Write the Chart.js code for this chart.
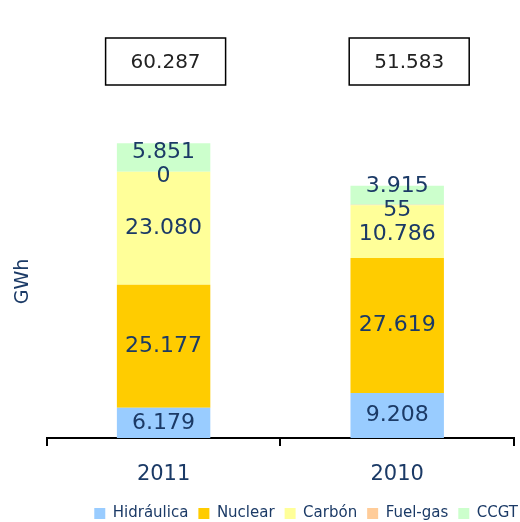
<!DOCTYPE html>
<html>
<head>
<meta charset="utf-8">
<script src="https://cdn.jsdelivr.net/npm/chart.js@4.4.1/dist/chart.umd.min.js"></script>
<style>
    html, body { margin: 0; padding: 0; background: #fff; }
    #wrap { width: 520px; height: 522px; }
</style>
</head>
<body>
<div id="wrap"><canvas id="barChart"></canvas></div>
<script>
// values (GWh)
const years = ["2011", "2010"];
const hidraulica = [6179, 9208];
const nuclear = [25177, 27619];
const carbon = [23080, 10786];
const fuelGas = [0, 55];
const ccgt = [5851, 3915];

const seriesNames = ["Hidráulica", "Nuclear", "Carbón", "Fuel-gas", "CCGT"];
const seriesColors = ["#99ccff", "#ffcc00", "#ffff99", "#ffcc99", "#ccffcc"];
const seriesValues = [hidraulica, nuclear, carbon, fuelGas, ccgt];

const textBlue = "#1b3a66";
const fontFamily = "'DejaVu Sans', Verdana, sans-serif";

function fmt(v) {
    return String(v).replace(/\B(?=(\d{3})+(?!\d))/g, ".");
}

// labels in the middle of each segment, pushed apart a bit when they collide
const segmentLabels = {
    id: "segmentLabels",
    afterDatasetsDraw(chart) {
        const ctx = chart.ctx;
        const minGap = 24;
        ctx.save();
        ctx.font = "22px " + fontFamily;
        ctx.fillStyle = textBlue;
        ctx.textAlign = "center";
        ctx.textBaseline = "middle";
        years.forEach((yr, i) => {
            let items = [];
            chart.data.datasets.forEach((ds, d) => {
                const el = chart.getDatasetMeta(d).data[i];
                items.push({ x: el.x, y: (el.y + el.base) / 2, text: fmt(ds.data[i]) });
            });
            // bottom to top
            items.sort((a, b) => b.y - a.y);
            let groups = items.map(it => ({ members: [it], center: it.y }));
            let changed = true;
            while (changed) {
                changed = false;
                for (let g = 0; g < groups.length - 1; g++) {
                    const lo = groups[g], hi = groups[g + 1];
                    const loTop = lo.center - (lo.members.length - 1) * minGap / 2;
                    const hiBottom = hi.center + (hi.members.length - 1) * minGap / 2;
                    if (loTop - hiBottom < minGap) {
                        const n = lo.members.length + hi.members.length;
                        const c = (lo.center * lo.members.length + hi.center * hi.members.length) / n;
                        groups.splice(g, 2, { members: lo.members.concat(hi.members), center: c });
                        changed = true;
                        break;
                    }
                }
            }
            groups.forEach(g => {
                const n = g.members.length;
                g.members.forEach((m, k) => {
                    const y = g.center + ((n - 1) / 2 - k) * minGap;
                    ctx.fillText(m.text, m.x, y);
                });
            });
        });
        ctx.restore();
    }
};

// boxed totals above the bars
const totalBoxes = {
    id: "totalBoxes",
    afterDraw(chart) {
        const ctx = chart.ctx;
        const xs = chart.scales.x;
        ctx.save();
        years.forEach((yr, i) => {
            const total = seriesValues.reduce((s, arr) => s + arr[i], 0);
            const cx = xs.getPixelForValue(i) + (i === 0 ? 2 : 12);
            const w = 120, h = 47, top = 38;
            ctx.fillStyle = "#fff";
            ctx.fillRect(cx - w / 2, top, w, h);
            ctx.strokeStyle = "#000";
            ctx.lineWidth = 1.5;
            ctx.strokeRect(cx - w / 2, top, w, h);
            ctx.fillStyle = "#222";
            ctx.font = "20px " + fontFamily;
            ctx.textAlign = "center";
            ctx.textBaseline = "middle";
            ctx.fillText(fmt(total), cx, top + h / 2 + 1);
        });
        ctx.restore();
    }
};

// the legend sits further right than the plot area allows
const legendShift = {
    id: "legendShift",
    afterLayout(chart) {
        const lg = chart.legend;
        if (!lg) return;
        const dx = 14;
        lg.left += dx;
        lg.right += dx;
        if (lg.legendHitBoxes) lg.legendHitBoxes.forEach(b => { b.left += dx; });
    }
};

const ctxBar = document.getElementById("barChart").getContext("2d");
new Chart(ctxBar, {
    type: "bar",
    data: {
        labels: years,
        datasets: seriesNames.map((name, k) => ({
            label: name,
            data: seriesValues[k],
            backgroundColor: seriesColors[k],
            borderWidth: 0,
            categoryPercentage: 1,
            barPercentage: 0.4
        }))
    },
    options: {
        responsive: true,
        maintainAspectRatio: false,
        animation: false,
        layout: {
            padding: { top: 125, left: 8, right: 6, bottom: -9 }
        },
        plugins: {
            legend: {
                position: "bottom",
                align: "end",
                labels: {
                    boxWidth: 11,
                    boxHeight: 11,
                    padding: 10,
                    color: textBlue,
                    font: { family: fontFamily, size: 15 }
                }
            },
            tooltip: { enabled: false }
        },
        scales: {
            x: {
                stacked: true,
                afterFit(scale) {
                    scale.height = 58;
                },
                grid: {
                    display: true,
                    drawOnChartArea: false,
                    offset: true,
                    drawTicks: true,
                    tickLength: 8,
                    color: "#000",
                    lineWidth: 2
                },
                border: { display: true, color: "#000", width: 2 },
                ticks: {
                    color: textBlue,
                    padding: 18,
                    font: { family: fontFamily, size: 21, lineHeight: 1.0 }
                }
            },
            y: {
                stacked: true,
                min: 0,
                max: 64000,
                grid: { display: false, drawTicks: false },
                border: { display: false },
                ticks: { display: false },
                title: {
                    display: true,
                    text: "GWh",
                    color: textBlue,
                    padding: { top: 4, bottom: 12 },
                    font: { family: fontFamily, size: 19 }
                }
            }
        }
    },
    plugins: [segmentLabels, totalBoxes, legendShift]
});
</script>
</body>
</html>
